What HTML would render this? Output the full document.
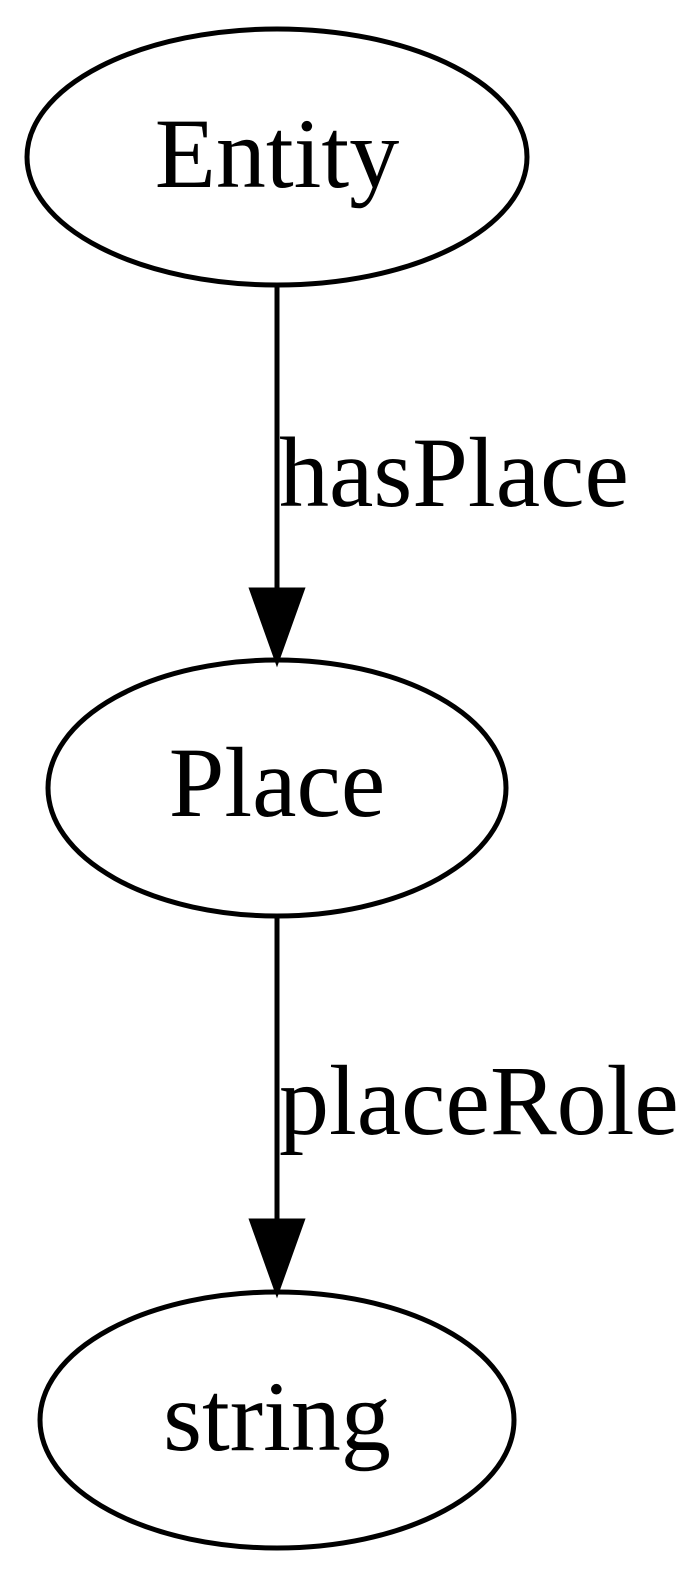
<!DOCTYPE html>
<html><head><style>html,body{margin:0;padding:0;background:#fff;}</style></head>
<body>
<svg width="700" height="1570" xmlns="http://www.w3.org/2000/svg" font-family="Liberation Serif, serif">
<g fill="none" stroke="#000" stroke-width="5">
<ellipse cx="277" cy="157" rx="250" ry="128"/>
<ellipse cx="277" cy="788" rx="229" ry="128"/>
<ellipse cx="277" cy="1420" rx="237" ry="128"/>
<line x1="277" y1="285" x2="277" y2="592"/>
<line x1="277" y1="916" x2="277" y2="1222"/>
</g>
<polygon points="252,590 302,590 277,660" fill="#000" stroke="#000" stroke-width="5"/>
<polygon points="252,1221 302,1221 277,1291" fill="#000" stroke="#000" stroke-width="5"/>
<g font-size="100" text-anchor="middle" fill="#000">
<text x="277" y="187">Entity</text>
<text x="277" y="816">Place</text>
<text x="277" y="1450">string</text>
</g>
<g font-size="100" fill="#000">
<text x="279" y="506">hasPlace</text>
<text x="279" y="1134">placeRole</text>
</g>
</svg>
</body></html>
